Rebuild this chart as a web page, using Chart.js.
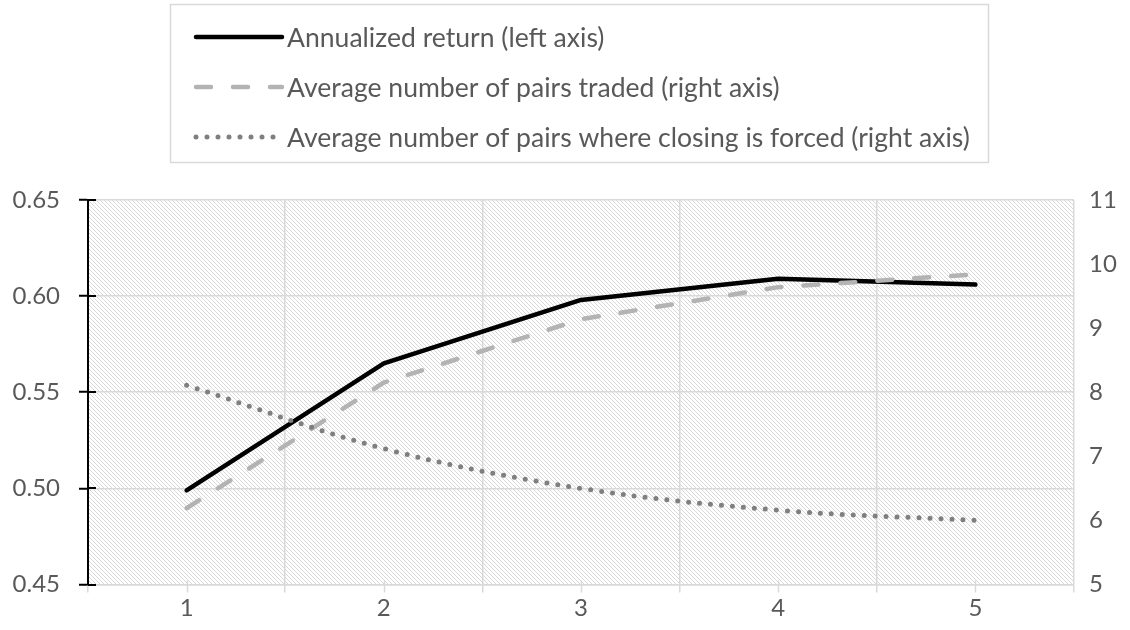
<!DOCTYPE html>
<html>
<head>
<meta charset="utf-8">
<script src="https://cdn.jsdelivr.net/npm/chart.js@4.4.1/dist/chart.umd.min.js"></script>
<style>
html,body{margin:0;padding:0;background:#fff;}
#wrap{width:1130px;height:630px;position:relative;}
</style>
</head>
<body>
<div id="wrap"><canvas id="c" width="1130" height="630"></canvas></div>
<script>
const categories = ["1", "2", "3", "4", "5"];
const annualizedReturn = [0.499, 0.565, 0.598, 0.609, 0.606];
const pairsTraded = [6.19, 8.15, 9.14, 9.64, 9.84];
const pairsForced = [8.11, 7.12, 6.50, 6.16, 6.00];
const leftTicks = [0.45, 0.50, 0.55, 0.60, 0.65];
const rightTicks = [5, 6, 7, 8, 9, 10, 11];
const seriesNames = [
  "Annualized return (left axis)",
  "Average number of pairs traded (right axis)",
  "Average number of pairs where closing is forced (right axis)"
];

const FONT = "Lato, 'Open Sans', sans-serif";
const TXT = "#595959";
const GRID = "#d9d9d9";

function makePattern(ctx){
  const p = document.createElement('canvas');
  p.width = 4; p.height = 4;
  const g = p.getContext('2d');
  g.fillStyle = '#ffffff'; g.fillRect(0,0,4,4);
  g.fillStyle = '#d8d8d8';
  for (let i=0;i<4;i++){ g.fillRect(i,i,1,1); }
  return ctx.createPattern(p,'repeat');
}

const hatchPlugin = {
  id: 'hatch',
  beforeDraw(chart){
    const {ctx, chartArea:a} = chart;
    ctx.save();
    ctx.fillStyle = makePattern(ctx);
    ctx.fillRect(a.left, a.top, a.right-a.left, a.bottom-a.top);
    ctx.restore();
  },
  afterDraw(chart){
    const {ctx, chartArea:a} = chart;
    ctx.save();
    const yl = chart.scales.yL;
    ctx.strokeStyle = '#000'; ctx.lineWidth = 2;
    yl.ticks.forEach((t,i)=>{
      const y = Math.round(yl.getPixelForTick(i));
      ctx.beginPath(); ctx.moveTo(a.left, y); ctx.lineTo(a.left+8, y); ctx.stroke();
    });
    const x = chart.scales.x;
    ctx.strokeStyle = GRID; ctx.lineWidth = 1.5;
    categories.forEach((c,i)=>{
      const px = Math.round(x.getPixelForValue(i))+0.5;
      ctx.beginPath(); ctx.moveTo(px, a.bottom-4); ctx.lineTo(px, a.bottom+8); ctx.stroke();
    });
    ctx.restore();
  }
};

const legendPlugin = {
  id: 'customLegend',
  afterDraw(chart){
    const ctx = chart.ctx;
    ctx.save();
    ctx.strokeStyle = GRID; ctx.lineWidth = 1.5;
    ctx.strokeRect(170.5, 4.5, 818, 158);
    let size = 24;
    ctx.font = size + "px " + FONT;
    const w = ctx.measureText(seriesNames[2]).width;
    size = size * 683 / w;
    ctx.font = size.toFixed(2) + "px " + FONT;
    ctx.fillStyle = TXT;
    ctx.textBaseline = 'middle';
    ctx.textAlign = 'left';
    const rows = [37, 87, 137];
    const ds = chart.data.datasets;
    rows.forEach((y,i)=>{
      const d = ds[i];
      ctx.save();
      ctx.strokeStyle = d.borderColor;
      ctx.lineWidth = d.borderWidth;
      ctx.lineCap = d.borderCapStyle || 'butt';
      ctx.setLineDash(d.borderDash || []);
      ctx.beginPath(); ctx.moveTo(196, y); ctx.lineTo(282, y); ctx.stroke();
      ctx.restore();
      ctx.fillText(seriesNames[i], 287, y+1);
    });
    ctx.restore();
  }
};

new Chart(document.getElementById('c'), {
  type: 'line',
  data: {
    labels: categories,
    datasets: [
      { label: seriesNames[0], data: annualizedReturn, yAxisID: 'yL',
        borderColor: '#000000', borderWidth: 4.5, borderCapStyle: 'round', borderJoinStyle: 'round',
        pointRadius: 0, tension: 0, order: 3 },
      { label: seriesNames[1], data: pairsTraded, yAxisID: 'yR',
        borderColor: '#b3b3b3', borderWidth: 4.5, borderCapStyle: 'round', borderDash: [15, 22],
        pointRadius: 0, tension: 0, order: 2 },
      { label: seriesNames[2], data: pairsForced, yAxisID: 'yR',
        borderColor: '#7f7f7f', borderWidth: 5, borderCapStyle: 'round', borderDash: [0, 11],
        pointRadius: 0, tension: 0.35, order: 1 }
    ]
  },
  options: {
    responsive: false,
    animation: false,
    devicePixelRatio: 1,
    layout: { padding: { top: 200, bottom: 0, left: 0, right: 0 } },
    plugins: { legend: { display: false }, tooltip: { enabled: false } },
    scales: {
      x: {
        offset: true,
        grid: { offset: true, color: GRID, lineWidth: 1.5, tickColor: GRID, tickLength: 8 },
        border: { color: GRID, width: 1.5 },
        ticks: { color: TXT, font: { family: FONT, size: 24 }, padding: 1 },
        afterFit(s){ s.height = 45.5; }
      },
      yL: {
        position: 'left', min: 0.45, max: 0.65,
        afterBuildTicks(s){ s.ticks = leftTicks.map(v=>({value:v})); },
        grid: { color: GRID, lineWidth: 1.5, tickColor: '#000', tickLength: 9, tickWidth: 2 },
        border: { color: '#000', width: 2 },
        ticks: { color: TXT, font: { family: FONT, size: 24 }, padding: 19,
          callback: v => v.toFixed(2) },
        afterFit(s){ s.width = 88; }
      },
      yR: {
        position: 'right', min: 5, max: 11,
        afterBuildTicks(s){ s.ticks = rightTicks.map(v=>({value:v})); },
        grid: { display: false, drawTicks: false },
        border: { display: false },
        ticks: { color: TXT, font: { family: FONT, size: 24 }, padding: 15,
          callback: v => String(v) },
        afterFit(s){ s.width = 56; }
      }
    }
  },
  plugins: [hatchPlugin, legendPlugin]
});
</script>
</body>
</html>
